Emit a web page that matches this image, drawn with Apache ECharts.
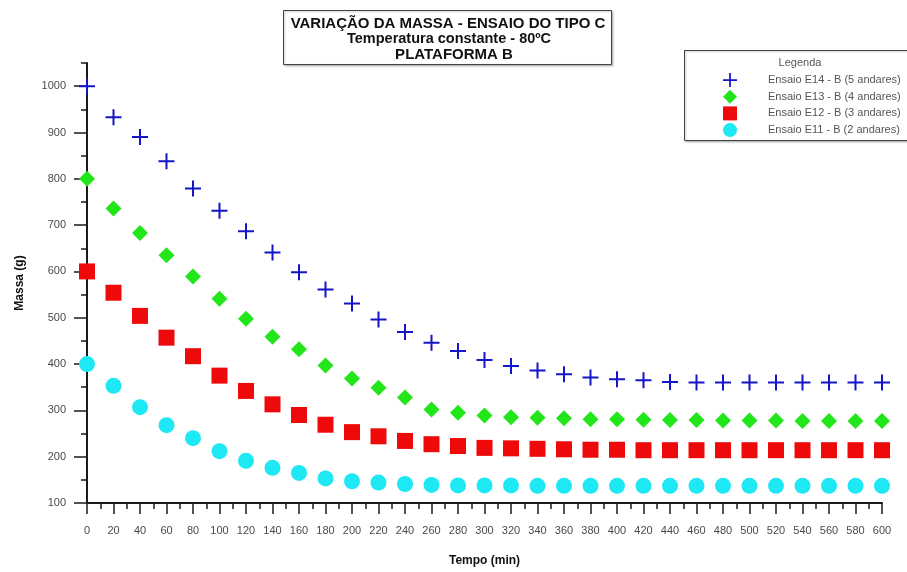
<!DOCTYPE html>
<html>
<head>
<meta charset="utf-8">
<script src="https://cdn.jsdelivr.net/npm/echarts@6/dist/echarts.min.js"></script>
<style>
  html, body { margin: 0; padding: 0; background: #ffffff; }
  #chart { width: 907px; height: 572px; }
</style>
</head>
<body>
<div id="chart"></div>
<script>
// Tempo (min): one reading every 20 minutes
const tempo = [0, 20, 40, 60, 80, 100, 120, 140, 160, 180, 200, 220, 240, 260, 280, 300,
  320, 340, 360, 380, 400, 420, 440, 460, 480, 500, 520, 540, 560, 580, 600];

// Massa (g) per ensaio
const e14 = [1000, 933, 890, 838, 779, 731, 687, 641, 598, 561, 531, 496, 469, 446, 428, 409,
  396, 386, 378, 371, 367, 365, 361, 360, 360, 360, 360, 360, 360, 360, 360];
const e13 = [800, 736, 683, 635, 589, 541, 498, 459, 432, 397, 369, 349, 328, 302, 295, 289,
  285, 284, 283, 281, 281, 280, 279, 279, 278, 278, 278, 277, 277, 277, 277];
const e12 = [600, 554, 504, 457, 417, 375, 342, 313, 290, 269, 253, 244, 234, 227, 223, 219,
  218, 217, 216, 215, 215, 214, 214, 214, 214, 214, 214, 214, 214, 214, 214];
const e11 = [400, 353, 307, 268, 240, 212, 191, 176, 165, 153, 147, 144, 141, 139, 138, 138,
  138, 137, 137, 137, 137, 137, 137, 137, 137, 137, 137, 137, 137, 137, 137];

const seriesNames = [
  'Ensaio E14 - B (5 andares)',
  'Ensaio E13 - B (4 andares)',
  'Ensaio E12 - B (3 andares)',
  'Ensaio E11 - B (2 andares)'
];

// Axis tick values
const yLabelValues = [100, 200, 300, 400, 500, 600, 700, 800, 900, 1000];
const xLabelValues = tempo.slice();

const titleLines = [
  'VARIAÇÃO DA MASSA - ENSAIO DO TIPO C',
  'Temperatura constante - 80ºC',
  'PLATAFORMA B'
];

const FONT = '"Liberation Sans", Arial, sans-serif';
const PLUS = 'path://M7,0H9V7H16V9H9V16H7V9H0V7H7Z';

function pairs(values) {
  return tempo.map((t, i) => [t, values[i]]);
}

const chart = echarts.init(document.getElementById('chart'), null, { renderer: 'canvas' });

const axisLineStyle = { color: '#1a1a1a', width: 2 };
const plain = v => String(v);

chart.setOption({
  animation: false,
  backgroundColor: '#ffffff',
  textStyle: { fontFamily: FONT },
  grid: { left: 87, right: 25, top: 63, bottom: 68, containLabel: false },
  xAxis: [
    {
      type: 'value', min: 0, max: 600, interval: 10,
      axisLine: { show: true, lineStyle: axisLineStyle },
      axisTick: { show: true, length: 6, lineStyle: { color: '#1a1a1a', width: 1.5 } },
      axisLabel: {
        show: true, customValues: xLabelValues, margin: 22, formatter: plain,
        fontSize: 11, color: '#4a4a4a', fontFamily: FONT
      },
      splitLine: { show: false },
      name: 'Tempo (min)', nameLocation: 'middle', nameGap: 52,
      nameTextStyle: { fontSize: 12, fontWeight: 'bold', color: '#111', fontFamily: FONT }
    },
    {
      type: 'value', min: 0, max: 600, position: 'bottom',
      axisLine: { show: false },
      axisTick: { show: true, customValues: xLabelValues, length: 11, lineStyle: { color: '#1a1a1a', width: 1.5 } },
      axisLabel: { show: false },
      splitLine: { show: false }
    }
  ],
  yAxis: [
    {
      type: 'value', min: 100, max: 1050, interval: 50,
      axisLine: { show: true, lineStyle: axisLineStyle },
      axisTick: { show: true, length: 6, lineStyle: { color: '#1a1a1a', width: 1.5 } },
      axisLabel: {
        show: true, customValues: yLabelValues, margin: 21, formatter: plain,
        fontSize: 11, color: '#4a4a4a', fontFamily: FONT
      },
      splitLine: { show: false },
      name: 'Massa (g)', nameLocation: 'middle', nameGap: 61,
      nameTextStyle: { fontSize: 12, fontWeight: 'bold', color: '#111', fontFamily: FONT }
    },
    {
      type: 'value', min: 100, max: 1050, position: 'left',
      axisLine: { show: false },
      axisTick: { show: true, customValues: yLabelValues, length: 13, lineStyle: { color: '#1a1a1a', width: 1.5 } },
      axisLabel: { show: false },
      splitLine: { show: false }
    }
  ],
  legend: {
    orient: 'vertical', left: 718, top: 68,
    itemWidth: 14, itemHeight: 14, itemGap: 2.7,
    selectedMode: false,
    data: seriesNames,
    textStyle: { fontSize: 11, color: '#555', fontFamily: FONT, padding: [0, 0, 0, 26] }
  },
  graphic: [
    {
      type: 'rect', left: 283, top: 10, z: 10,
      shape: { width: 328, height: 54 },
      style: { fill: '#fff', stroke: '#444', lineWidth: 1, shadowColor: 'rgba(0,0,0,0.25)', shadowBlur: 2, shadowOffsetX: 1, shadowOffsetY: 1 }
    },
    {
      type: 'text', x: 448, y: 23.5, z: 11,
      style: { text: titleLines[0], font: 'bold 15px ' + FONT, fill: '#111', align: 'center', verticalAlign: 'middle' }
    },
    {
      type: 'text', x: 449, y: 39, z: 11,
      style: { text: titleLines[1], font: 'bold 14.5px ' + FONT, fill: '#111', align: 'center', verticalAlign: 'middle' }
    },
    {
      type: 'text', x: 454, y: 55, z: 11,
      style: { text: titleLines[2], font: 'bold 15px ' + FONT, fill: '#111', align: 'center', verticalAlign: 'middle' }
    },
    {
      type: 'rect', left: 684, top: 50, z: 0,
      shape: { width: 240, height: 90 },
      style: { fill: '#fff', stroke: '#444', lineWidth: 1, shadowColor: 'rgba(0,0,0,0.25)', shadowBlur: 2, shadowOffsetX: 1, shadowOffsetY: 1 }
    },
    {
      type: 'text', x: 800, y: 63, z: 11,
      style: { text: 'Legenda', font: '11px ' + FONT, fill: '#555', align: 'center', verticalAlign: 'middle' }
    }
  ],
  series: [
    {
      name: seriesNames[0], type: 'scatter', data: pairs(e14),
      symbol: PLUS, symbolSize: 16, itemStyle: { color: '#1414c8', opacity: 1 }, z: 5
    },
    {
      name: seriesNames[1], type: 'scatter', data: pairs(e13),
      symbol: 'diamond', symbolSize: 16, itemStyle: { color: '#22e61a', opacity: 1 }, z: 4
    },
    {
      name: seriesNames[2], type: 'scatter', data: pairs(e12),
      symbol: 'rect', symbolSize: 16, itemStyle: { color: '#ee0a0a', opacity: 1 }, z: 3
    },
    {
      name: seriesNames[3], type: 'scatter', data: pairs(e11),
      symbol: 'circle', symbolSize: 16, itemStyle: { color: '#1ee8f4', opacity: 1 }, z: 2
    }
  ]
});
</script>
</body>
</html>
